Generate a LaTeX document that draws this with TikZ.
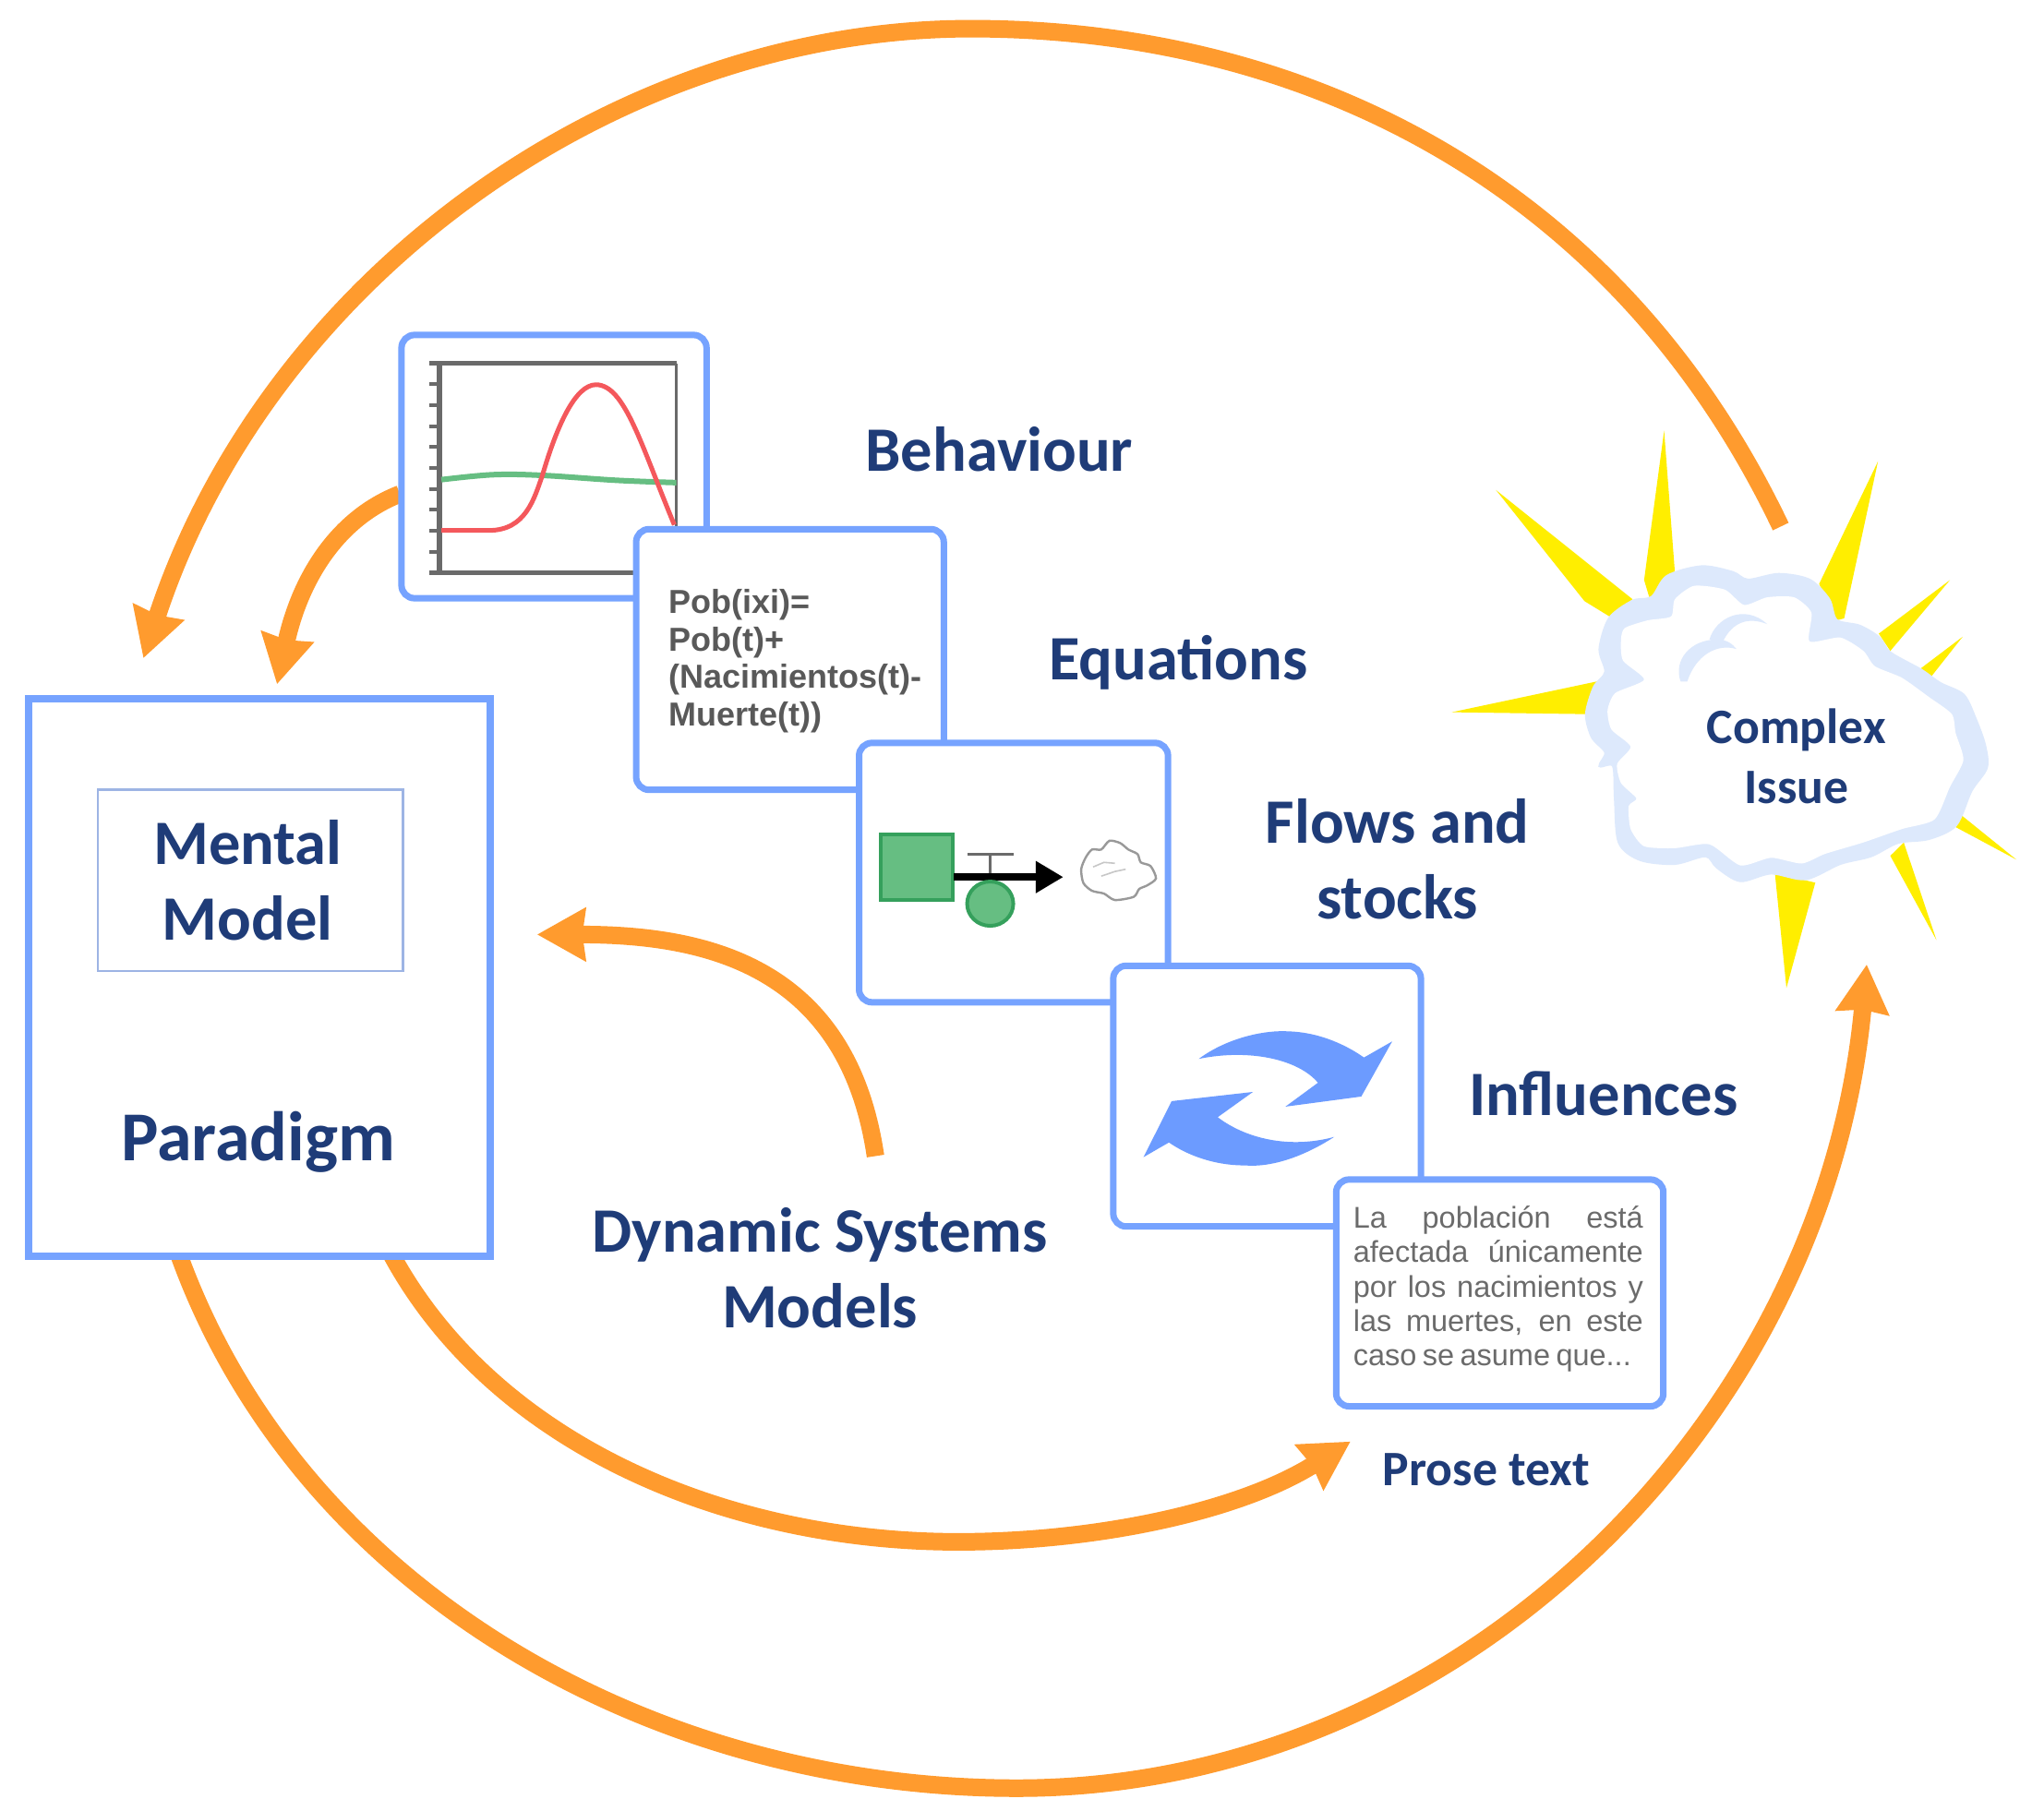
\documentclass[tikz,border=0pt]{standalone}
\usepackage{fontspec}
\setmainfont{Carlito}
\newfontfamily\arialf{Liberation Sans}
\usetikzlibrary{arrows.meta,positioning}
\definecolor{cardblue}{HTML}{76A3FF}
\definecolor{thinblue}{HTML}{9DB4E4}
\definecolor{navy}{HTML}{1F3C78}
\definecolor{orangearc}{HTML}{FF9B2E}
\definecolor{sunray}{HTML}{FFEE00}
\definecolor{cloudedge}{HTML}{DDE9FC}
\definecolor{stockgreen}{HTML}{66BE82}
\definecolor{stockedge}{HTML}{35A05C}
\definecolor{plotgray}{HTML}{6A6A6A}
\definecolor{plotred}{HTML}{F4585C}
\definecolor{turnblue}{HTML}{6C9BFF}
\def\s{1.41199}
\tikzset{
  cardbox/.style={draw=cardblue,line width=7pt,fill=white,rounded corners=14pt,anchor=north west,inner sep=0pt,outer sep=0pt},
  bigbox/.style={draw=cardblue,line width=8pt,fill=white,anchor=north west,inner sep=0pt,outer sep=0pt},
  thinbox/.style={draw=thinblue,line width=2.4pt,fill=white,anchor=north west,inner sep=0pt,outer sep=0pt},
  bigtext/.style={font=\bfseries\fontsize{68.5}{82}\selectfont,text=navy,align=center,inner sep=0pt},
  midtext/.style={font=\bfseries\fontsize{53.7}{65}\selectfont,text=navy,align=center,inner sep=0pt},
  arc/.style={draw=orangearc,line width=19pt},
  arcarrow/.style={arc,-{Stealth[length=52pt,width=56pt,inset=3pt]}},
  ray/.style={fill=sunray,draw=none},
  blueturn/.style={fill=turnblue,draw=none},
}
\begin{document}
\begin{tikzpicture}[x=\s pt,y=-\s pt]
\useasboundingbox (0,0) rectangle (1568,1389.5);
\fill[white] (0,0) rectangle (1568,1389.5);

% sun rays and cloud, zoom coordinates
\begin{scope}[shift={(1104.82,318.7)},x=0.41667pt,y=-0.41494pt]
  \fill[ray] (145,195) -- (500,480) -- (440,525) -- (375,485) -- cycle;
  \fill[ray] (582,40) -- (610,410) -- (545,480) -- (530,430) -- cycle;
  \fill[ray] (1138,120) -- (985,440) -- (1030,535) -- (1050,530) -- cycle;
  \fill[ray] (1325,430) -- (1140,570) -- (1170,615) -- cycle;
  \fill[ray] (1358,578) -- (1250,660) -- (1270,690) -- cycle;
  \fill[ray] (1498,1160) -- (1350,1040) -- (1340,1075) -- cycle;
  \fill[ray] (1290,1370) -- (1205,1115) -- (1170,1150) -- cycle;
  \fill[ray] (900,1495) -- (870,1195) -- (975,1220) -- cycle;
  \fill[ray] (30,775) -- (415,693) -- (380,780) -- cycle;
  \fill[cloudedge,draw=cloudedge,line width=3pt] plot[smooth cycle,tension=0.5] coordinates {(440,530) (500,485) (550,475) (590,420) (680,395) (760,410) (800,430) (880,415) (960,430) (1010,480) (1030,535) (1090,550) (1140,580) (1170,620) (1250,665) (1300,700) (1360,730) (1390,790) (1415,860) (1420,920) (1380,980) (1340,1070) (1270,1105) (1190,1115) (1120,1150) (1040,1170) (950,1210) (860,1195) (780,1215) (720,1180) (690,1150) (610,1170) (520,1160) (465,1115) (455,1000) (450,915) (415,915) (430,880) (395,840) (380,780) (400,710) (430,670) (415,610)};
  \fill[white] plot[smooth cycle,tension=0.4] coordinates {(470,585) (480,555) (540,535) (600,525) (610,480) (660,445) (740,455) (790,495) (850,475) (920,475) (965,515) (960,590) (1040,580) (1100,615) (1130,655) (1200,685) (1270,735) (1330,780) (1340,830) (1360,900) (1325,970) (1285,1055) (1200,1080) (1100,1115) (1000,1145) (940,1170) (860,1155) (780,1175) (700,1120) (610,1130) (530,1125) (495,1080) (490,1020) (510,1000) (470,960) (460,910) (495,865) (445,820) (435,770) (455,725) (530,690) (475,640)};
  \fill[cloudedge] (625,695) .. controls (605,640) and (650,585) .. (720,585) .. controls (745,585) and (760,597) .. (770,610) .. controls (720,595) and (665,625) .. (642,695) -- cycle;
  \fill[cloudedge] (700,585) .. controls (715,530) and (790,490) .. (850,545) .. controls (800,525) and (760,540) .. (735,590) -- cycle;
\end{scope}

% outer arcs
\coordinate (topStart) at (1366,404);
\coordinate (topMid) at (745,22);
\coordinate (topEnd) at (110,505);
\coordinate (botStart) at (137,962);
\coordinate (botMid) at (780,1372);
\coordinate (botEnd) at (1432,740);
\coordinate (midStart) at (300,962);
\coordinate (midMid) at (735,1183);
\coordinate (midEnd) at (1036,1106);
\coordinate (dynStart) at (671.6,887);
\coordinate (dynEnd) at (412,717);
\coordinate (behStart) at (306.8,379);
\coordinate (behEnd) at (212.5,525);

\draw[arcarrow] (topStart) .. controls (1240,140) and (1000,22) .. (topMid) .. controls (470,22) and (205,215) .. (topEnd);
\draw[arcarrow] (botStart) .. controls (230,1220) and (500,1372) .. (botMid) .. controls (1120,1372) and (1400,1090) .. (botEnd);
\draw[arcarrow] (midStart) .. controls (380,1110) and (560,1183) .. (midMid) .. controls (840,1183) and (950,1160) .. (midEnd);
\draw[arcarrow] (dynStart) .. controls (650,740) and (540,717) .. (dynEnd);
\draw[arcarrow] (behStart) .. controls (258,398) and (230,445) .. (behEnd);

% paradigm
\node[bigbox,minimum width=354*\s pt,minimum height=428*\s pt] (paradigmBox) at (22,536) {};
\node[thinbox,minimum width=234*\s pt,minimum height=139*\s pt] (mentalBox) at (75,606) {};
\node[bigtext] (mental) at (190,675.5) {Mental\\Model};
\node[bigtext,font=\bfseries\fontsize{76}{82}\selectfont] (paradigm) at (198,876) {Paradigm};

% behaviour card
\node[cardbox,minimum width=234*\s pt,minimum height=202*\s pt] (behBox) at (308,257) {};
\begin{scope}[shift={(283.29,240.79)},x=0.44643pt,y=-0.35714pt]
  \draw[plotgray,line width=5pt] (145,150) -- (745,150);
  \draw[plotgray,line width=5pt] (145,785) -- (745,785);
  \draw[plotgray,line width=3.6pt] (745,150) -- (745,785);
  \draw[plotgray,line width=6pt] (170,150) -- (170,785);
  \foreach \ty in {213.5,277,340.5,404,467.5,531,594.5,658,721.5}
    \draw[plotgray,line width=4pt] (145,\ty) -- (170,\ty);
  \draw[stockgreen,line width=6pt] plot[smooth,tension=0.6] coordinates {(175,503) (300,488) (420,490) (600,505) (745,512)};
  \draw[plotred,line width=5pt] (175,657) -- (290,657) .. controls (380,657) and (400,560) .. (420,490) .. controls (455,340) and (500,215) .. (550,215) .. controls (620,215) and (660,400) .. (740,640);
\end{scope}

% equations card
\node[cardbox,minimum width=236*\s pt,minimum height=200*\s pt] (eqBox) at (488,406) {};
\node[font=\arialf\bfseries\fontsize{36}{40.6}\selectfont,text=black!65,align=left,anchor=north west,inner sep=0pt] (eqText) at (513,452) {Pob(ixi)=\\Pob(t)+\\(Nacimientos(t)-\\Muerte(t))};

% flows card
\node[cardbox,minimum width=237*\s pt,minimum height=199*\s pt] (flowBox) at (659,570) {};
\begin{scope}[shift={(651.56,559.49)},x=0.58675pt,y=-0.49744pt]
  \node[draw=stockedge,fill=stockgreen,line width=4pt,minimum width=78pt,minimum height=71pt,inner sep=0pt] (stock) at (125,301) {};
  \draw[plotgray,line width=3.5pt] (218,272) -- (303,272);
  \draw[plotgray,line width=3.5pt] (260,272) -- (260,322);
  \coordinate (flowEnd) at (395,322);
  \draw[black,line width=8pt,-{Triangle[length=30pt,width=33pt]}] (193,322) -- (flowEnd);
  \draw[stockedge,fill=stockgreen,line width=4pt] (260,380) ellipse [x radius=25pt,y radius=24pt];
  \draw[black!40,fill=white,line width=2.4pt] plot[smooth cycle,tension=0.45] coordinates {(428,305) (436,280) (448,262) (465,262) (480,243) (500,248) (515,262) (532,272) (538,290) (556,298) (566,325) (550,340) (535,348) (525,365) (490,372) (470,358) (448,352) (432,335)};
  \draw[black!22,line width=1.6pt] (450,300) -- (470,290) -- (490,292);
  \draw[black!22,line width=1.6pt] (465,320) -- (490,310) -- (510,305);
\end{scope}

% influences card
\node[cardbox,minimum width=236*\s pt,minimum height=200*\s pt] (inflBox) at (854,741) {};
\begin{scope}[shift={(651.56,559.49)},x=0.58675pt,y=-0.49744pt]
  \fill[blueturn] (645,718) .. controls (700,670) and (770,655) .. (810,658) .. controls (870,660) and (920,690) .. (950,715) -- (1002,680) -- (945,800) -- (805,822) -- (865,770) .. controls (830,720) and (740,695) .. (645,718) -- cycle;
  \fill[blueturn] (895,888) .. controls (840,930) and (780,955) .. (730,950) .. controls (670,950) and (620,925) .. (590,900) -- (543,932) -- (595,810) -- (745,790) -- (680,845) .. controls (730,890) and (810,915) .. (895,888) -- cycle;
\end{scope}

% prose card
\node[cardbox,minimum width=251*\s pt,minimum height=174*\s pt] (proseBox) at (1025,905) {};
\node[font=\arialf\fontsize{32.5}{37.4}\selectfont,text=black!58,align=left,anchor=north west,inner sep=0pt] (proseText) at (1038,925) {\makebox[314pt][s]{La población está}\\\makebox[314pt][s]{afectada únicamente}\\\makebox[314pt][s]{por los nacimientos y}\\\makebox[314pt][s]{las muertes, en este}\\\makebox[301pt][s]{caso se asume que...}};

% labels
\node[bigtext] (behaviour) at (766.5,345) {Behaviour};
\node[bigtext] (equations) at (904,508) {Equations};
\node[bigtext] (flows) at (1072,659) {Flows and\\stocks};
\node[bigtext] (influences) at (1230,839) {Influences};
\node[bigtext] (dynamic) at (629,973) {Dynamic Systems\\Models};
\node[midtext] (prose) at (1140,1128) {Prose text};
\node[midtext] (complex) at (1378,580.5) {Complex\\Issue};
\end{tikzpicture}
\end{document}
